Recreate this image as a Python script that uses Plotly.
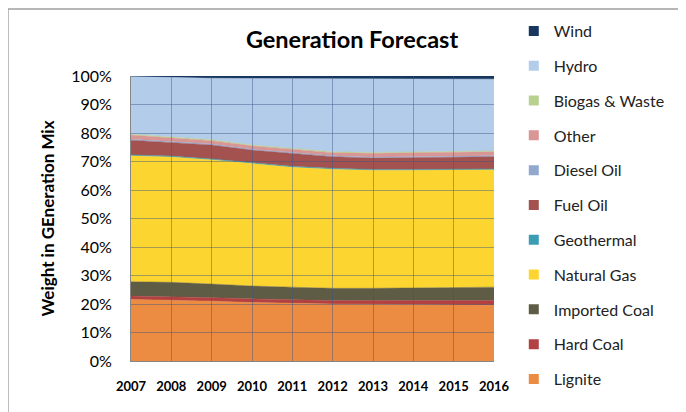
import plotly.graph_objects as go

years = ["2007", "2008", "2009", "2010", "2011", "2012", "2013", "2014", "2015", "2016"]

lignite       = [21.6, 21.4, 21.0, 20.5, 20.2, 20.0, 19.9, 19.8, 19.7, 19.6]
hard_coal     = [1.2, 1.2, 1.2, 1.3, 1.2, 1.2, 1.3, 1.4, 1.5, 1.6]
imported_coal = [5.0, 5.0, 4.8, 4.5, 4.5, 4.3, 4.3, 4.4, 4.5, 4.7]
natural_gas   = [44.2, 44.0, 43.6, 43.1, 42.1, 41.8, 41.4, 41.3, 41.3, 41.2]
geothermal    = [0.3, 0.3, 0.3, 0.3, 0.3, 0.3, 0.3, 0.3, 0.3, 0.3]
fuel_oil      = [5.2, 4.8, 4.9, 4.3, 4.6, 4.1, 4.0, 4.1, 4.2, 4.3]
diesel_oil    = [0.3, 0.3, 0.3, 0.3, 0.3, 0.3, 0.3, 0.3, 0.3, 0.3]
other         = [1.5, 1.3, 1.2, 1.2, 1.2, 1.1, 1.4, 1.4, 1.4, 1.4]
biogas_waste  = [0.3, 0.3, 0.3, 0.3, 0.3, 0.3, 0.3, 0.3, 0.3, 0.3]
hydro         = [20.2, 20.8, 21.6, 23.3, 24.4, 25.6, 25.8, 25.7, 25.5, 25.2]
wind          = [0.2, 0.6, 0.8, 0.9, 0.9, 1.0, 1.0, 1.0, 1.0, 1.1]

y_ticks = [0, 10, 20, 30, 40, 50, 60, 70, 80, 90, 100]
y_tick_labels = [f"{v}%" for v in y_ticks]

series = [
    ("Lignite", lignite, "#EB8C42"),
    ("Hard Coal", hard_coal, "#B34141"),
    ("Imported Coal", imported_coal, "#5F5C46"),
    ("Natural Gas", natural_gas, "#FDD531"),
    ("Geothermal", geothermal, "#3A9DB3"),
    ("Fuel Oil", fuel_oil, "#A35250"),
    ("Diesel Oil", diesel_oil, "#92A9CF"),
    ("Other", other, "#D99694"),
    ("Biogas & Waste", biogas_waste, "#B9D18F"),
    ("Hydro", hydro, "#B2CCEA"),
    ("Wind", wind, "#17375E"),
]

fig = go.Figure()
for name, vals, col in series:
    fig.add_trace(go.Scatter(
        x=years, y=vals, name=name, mode="lines",
        stackgroup="one", fillcolor=col,
        line=dict(color=col, width=0.5),
        legendgroup=name, showlegend=False,
        hoverinfo="x+y+name",
    ))
# square legend keys, top of the stack listed first
for name, vals, col in reversed(series):
    fig.add_trace(go.Scatter(
        x=[None], y=[None], name=name, mode="markers",
        marker=dict(symbol="square", size=10, color=col),
        legendgroup="key_" + name, showlegend=True, hoverinfo="skip",
    ))

# an empty overlay subplot drawn after the areas, carrying the gridlines
grid_col = "rgba(60,85,130,0.45)"
fig.add_trace(go.Scatter(x=[None], y=[None], xaxis="x2", yaxis="y2",
                         showlegend=False, hoverinfo="skip"))

# outer chart frame
fig.add_shape(type="rect", xref="paper", yref="paper",
              x0=-0.339, x1=1.7, y0=-0.3, y1=1.235,
              line=dict(color="#A0A0A0", width=1.5), layer="below")

fig.add_annotation(text="<b>Weight in GEneration Mix</b>", xref="paper", yref="paper",
                   x=-0.2314, y=0.50, textangle=-90, showarrow=False,
                   font=dict(size=17, color="#000000"), xanchor="center", yanchor="middle")

fig.update_layout(
    width=678, height=404,
    margin=dict(l=123, r=192, t=68, b=51, autoexpand=False),
    paper_bgcolor="white", plot_bgcolor="rgba(0,0,0,0)",
    font=dict(family="Lato, 'Open Sans', sans-serif", color="#000000"),
    title=dict(text="<b>Generation Forecast</b>", x=0.5074, xanchor="center",
               xref="container", y=0.9208, yref="container", yanchor="middle",
               font=dict(size=23.5, color="#000000")),
    showlegend=True,
    legend=dict(traceorder="grouped", xref="container", yref="container",
                x=0.746, xanchor="left", y=0.985, yanchor="top",
                font=dict(size=16, color="#222222"), tracegroupgap=11,
                itemwidth=30, bgcolor="rgba(0,0,0,0)", maxheight=1),
    xaxis=dict(type="category", range=[0, 9], showgrid=False, automargin=False,
               tickfont=dict(size=13, color="#000000"),
               showline=True, linecolor="#868686", ticks="", ticklabelstandoff=13,
               tickprefix="<b>", ticksuffix="</b>"),
    yaxis=dict(range=[0, 100], tickmode="array", tickvals=y_ticks, ticktext=y_tick_labels,
               showgrid=False, automargin=False,
               tickfont=dict(size=16, color="#000000"), ticklabelstandoff=15,
               showline=True, linecolor="#868686", ticks=""),
    xaxis2=dict(range=[0, 9], dtick=1, tick0=0, showgrid=True, gridcolor=grid_col,
                gridwidth=1, showticklabels=False, zeroline=False, showline=False,
                anchor="y2", fixedrange=True),
    yaxis2=dict(range=[0, 100], dtick=10, tick0=0, showgrid=True, gridcolor=grid_col,
                gridwidth=1, showticklabels=False, zeroline=False, showline=False,
                anchor="x2", fixedrange=True),
)

fig.write_html("out.html")
